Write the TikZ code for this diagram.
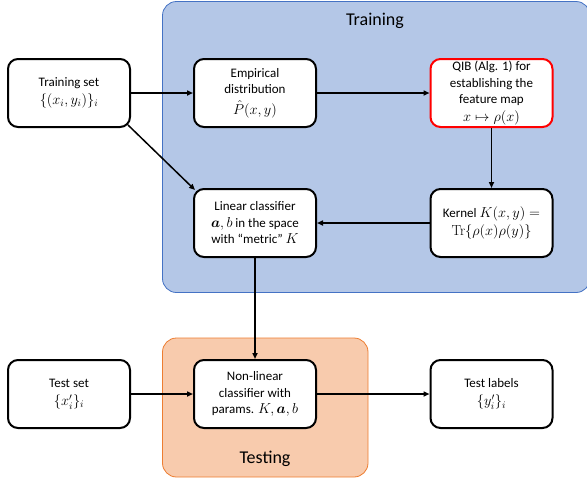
\documentclass[tikz,border=0pt]{standalone}
\usepackage{amsmath}
\usepackage{fontspec}
\setmainfont{Carlito}
\newfontfamily\lmrom{Latin Modern Roman}
\usetikzlibrary{arrows.meta,calc}
\definecolor{trainfill}{HTML}{B4C7E7}
\definecolor{trainline}{HTML}{4472C4}
\definecolor{testfill}{HTML}{F8CBAD}
\definecolor{testline}{HTML}{ED7D31}
\newcommand\mm[1]{{\fontsize{14.5}{16}\selectfont$#1$}}
\newcommand\trop{\text{\lmrom Tr}}
\tikzset{
  box/.style={draw=black, line width=2pt, fill=white, rounded corners=10pt,
    minimum width=122pt, minimum height=68pt, align=center, inner sep=2pt,
    font=\fontsize{13}{16.5}\selectfont},
  redbox/.style={box, draw=red},
  arr/.style={line width=1.5pt, -{Triangle[length=6pt,width=5pt]}},
  region/.style={rounded corners=14pt, line width=0.8pt},
  title/.style={font=\fontsize{18}{20}\selectfont}
}
\begin{document}
\begin{tikzpicture}[x=1pt,y=-1pt]
\useasboundingbox (0,0) rectangle (587,483);
\draw[region, fill=trainfill, draw=trainline] (162.5,1.5) rectangle (590,292.5);
\draw[region, fill=testfill, draw=testline] (162.5,338) rectangle (368,477);
\node[title] (trl) at (375,21) {Training};
\node[title] (tel) at (265,459) {Testing};

\node[box] (ts) at (69,93) {Training set\\[1pt] \mm{\{(x_i,y_i)\}_i}};
\node[box] (emp) at (255,93) {Empirical\\ distribution\\[4pt] \mm{\hat{P}(x,y)}};
\node[redbox] (qib) at (491.5,93) {QIB (Alg. 1) for\\ establishing the\\ feature map\\[1pt] \mm{x\mapsto\rho(x)}};
\node[box] (ker) at (491.5,223) {Kernel \mm{K(x,y) =}\\[1pt] \mm{\trop\{\rho(x)\rho(y)\}}};
\node[box] (lin) at (255,223) {Linear classifier\\ \mm{\boldsymbol{a},b}\ in the space\\ with “metric” \mm{K}};
\node[box] (nl) at (255,394) {Non-linear\\ classifier with\\ params. \mm{K,\boldsymbol{a},b}};
\node[box] (test) at (69,394) {Test set\\[2pt] \mm{\{x_i'\}_i}};
\node[box] (tl) at (491.5,394) {Test labels\\[2pt] \mm{\{y_i'\}_i}};

\draw[arr] (ts) -- (emp);
\draw[arr] (emp) -- (qib);
\draw[arr] (qib) -- (ker);
\draw[arr] (ker) -- (lin);
\draw[arr] ($(ts.south east)+(-3,-3)$) -- ($(lin.north west)+(2,2)$);
\draw[arr] (lin) -- (nl);
\draw[arr] (test) -- (nl);
\draw[arr] (nl) -- (tl);
\end{tikzpicture}
\end{document}
